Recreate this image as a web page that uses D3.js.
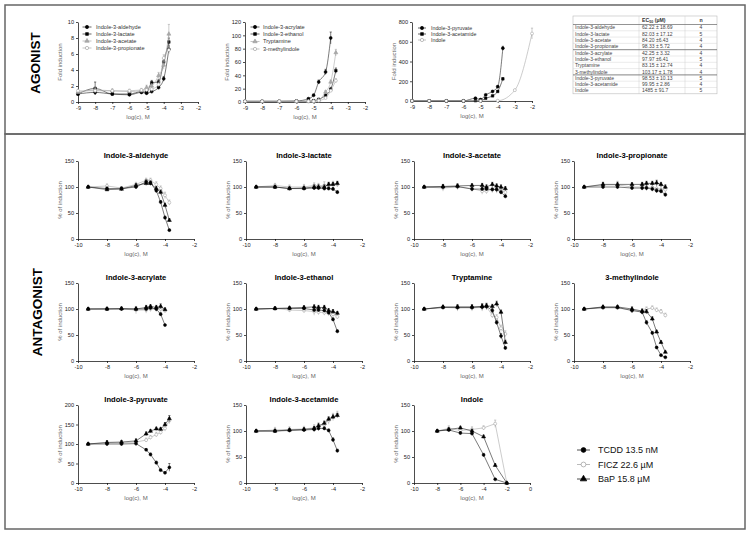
<!DOCTYPE html>
<html>
<head>
<meta charset="utf-8">
<script src="https://cdn.jsdelivr.net/npm/d3@7"></script>
<style>
body { margin: 0; background: #fff; }
text { font-family: "Liberation Sans", Arial, sans-serif; }
</style>
</head>
<body>
<svg id="fig" width="751" height="536"></svg>
<script>
// ---------- data ----------
var agoX = [-9, -8, -7, -6, -5.3, -5, -4.7, -4.3, -4, -3.7];
var agoIndoleX = [-9, -8, -7, -6, -5, -4, -3, -2];

// agonist panel 1 (fold induction)
var agoAldehyde   = [1.0, 1.2, 1.0, 0.9, 1.2, 1.1, 1.3, 1.8, 2.9, 6.6];
var agoLactate    = [1.0, 1.7, 1.0, 1.0, 1.3, 1.2, 2.4, 2.5, 5.0, 7.5];
var agoAcetate    = [1.2, 1.5, 1.4, 1.3, 1.4, 1.8, 2.0, 3.3, 4.6, 8.5];
var agoPropionate = [1.4, 1.4, 1.4, 1.4, 1.5, 1.5, 1.6, 2.2, 5.5, 6.5];
var agoAldehydeSd   = [0.1, 0.3, 0.1, 0.2, 0.2, 0.2, 0.2, 0.2, 0.3, 0.4];
var agoLactateSd    = [0.1, 0.8, 0.1, 0.1, 0.2, 0.2, 0.3, 0.3, 0.4, 0.5];
var agoAcetateSd    = [0.2, 0.3, 0.2, 0.2, 0.2, 0.3, 0.3, 0.4, 0.5, 1.2];
var agoPropionateSd = [0.2, 0.2, 0.2, 0.2, 0.2, 0.2, 0.3, 0.3, 0.4, 0.5];

// agonist panel 2
var agoAcrylate     = [1, 1, 1, 1.5, 5, 10, 30, 45, 96];
var agoEthanol      = [1, 1, 1, 1, 1, 2, 4, 10, 19, 47];
var agoTryptamine   = [1, 1, 1, 1, 1, 1, 3, 15, 30, 74];
var agoMethylindole = [1, 1, 1, 1, 1, 1, 2, 6, 17, 32];
var agoAcrylateSd     = [0.5, 0.5, 0.5, 0.5, 1, 2, 3, 4, 9];
var agoEthanolSd      = [0.5, 0.5, 0.5, 0.5, 0.5, 1, 1, 2, 3, 4];
var agoTryptamineSd   = [0.5, 0.5, 0.5, 0.5, 0.5, 0.5, 1, 2, 3, 5];
var agoMethylindoleSd = [0.5, 0.5, 0.5, 0.5, 0.5, 0.5, 1, 1, 2, 3];

// agonist panel 3
var agoPyruvate  = [1, 1, 1, 1, 28, 14, 62, 97, 145, 534];
var agoAcetamide = [1, 1, 1, 1, 3, 3, 28, 52, 97, 224];
var agoIndole    = [1, 1, 1, 1, 1, 3, 110, 683];
var agoPyruvateSd  = [2, 2, 2, 2, 5, 4, 6, 8, 10, 20];
var agoAcetamideSd = [2, 2, 2, 2, 3, 3, 4, 6, 8, 12];
var agoIndoleSd    = [2, 2, 2, 2, 2, 3, 8, 55];

// EC50 table
var tableNames = ["Indole-3-aldehyde", "Indole-3-lactate", "Indole-3-acetate", "Indole-3-propionate",
  "Indole-3-acrylate", "Indole-3-ethanol", "Tryptamine", "3-methylindole",
  "Indole-3-pyruvate", "Indole-3-acetamide", "Indole"];
var tableEc50 = ["62.22 \u00b1 18.69", "82.03 \u00b1 17.12", "84.20 \u00b16.43", "98.33 \u00b1 5.72",
  "42.25 \u00b1 3.32", "97.97 \u00b16.41", "83.15 \u00b1 12.74", "103.17 \u00b1 1.78",
  "98.53 \u00b1 10.13", "99.95 \u00b1 2.86", "1485 \u00b1 91.7"];
var tableN = [4, 5, 4, 4, 4, 5, 4, 4, 5, 4, 5];

// antagonist panels (% of induction)
var antagX = [-9.3, -8, -7, -6, -5.3, -5, -4.6, -4.3, -4, -3.7];
var antagIndoleX = [-8, -7, -6, -5, -4, -3, -2];
var antagTitles = ["Indole-3-aldehyde", "Indole-3-lactate", "Indole-3-acetate", "Indole-3-propionate",
  "Indole-3-acrylate", "Indole-3-ethanol", "Tryptamine", "3-methylindole",
  "Indole-3-pyruvate", "Indole-3-acetamide", "Indole"];

var tcdd = [
  [100, 97, 97, 100, 110, 108, 93, 71, 41, 17],
  [100, 100, 97, 97, 98, 98, 97, 97, 96, 90],
  [100, 100, 101, 96, 96, 96, 95, 95, 90, 82],
  [100, 100, 100, 98, 98, 98, 96, 93, 92, 85],
  [100, 100, 100, 100, 100, 102, 100, 90, 69],
  [100, 101, 101, 101, 98, 98, 97, 93, 80, 57],
  [100, 103, 103, 103, 104, 105, 97, 74, 48, 25],
  [100, 103, 103, 97, 94, 74, 54, 26, 11, 7],
  [100, 100, 100, 101, 85, 73, 52, 33, 26, 40],
  [100, 100, 101, 102, 103, 105, 105, 101, 83, 62],
  [100, 102, 96, 95, 54, 7, 0]
];
var ficz = [
  [100, 102, 98, 105, 113, 113, 105, 97, 84, 70],
  [100, 103, 100, 100, 103, 102, 103, 103, 106, 105],
  [100, 98, 100, 97, 92, 92, 96, 96, 94, 90],
  [100, 104, 104, 100, 100, 99, 99, 97, 95, 95],
  [100, 101, 100, 98, 98, 100, 100, 100, 97],
  [100, 101, 98, 97, 95, 94, 93, 92, 90, 85],
  [100, 103, 102, 102, 103, 104, 88, 84, 63, 52],
  [100, 102, 102, 98, 95, 100, 102, 98, 95, 88],
  [100, 103, 103, 105, 110, 117, 124, 130, 140, 160],
  [100, 102, 103, 104, 106, 110, 112, 120, 127, 132],
  [100, 105, 101, 103, 106, 114, 0]
];
var bap = [
  [100, 95, 96, 103, 107, 107, 97, 90, 65, 36],
  [100, 100, 97, 98, 100, 100, 100, 105, 105, 107],
  [100, 101, 102, 103, 103, 100, 105, 102, 100, 97],
  [100, 105, 105, 105, 105, 107, 107, 108, 105, 100],
  [100, 100, 101, 100, 103, 105, 103, 105, 99],
  [100, 101, 102, 103, 104, 103, 103, 97, 95, 92],
  [100, 104, 104, 104, 105, 106, 105, 110, 94, 36],
  [100, 104, 104, 100, 96, 95, 81, 56, 36, 17],
  [100, 104, 105, 108, 126, 133, 139, 138, 150, 165],
  [100, 100, 102, 103, 105, 110, 115, 123, 127, 130],
  [100, 103, 106, 100, 89, 34, 0]
];
var tcddSd = [
  [2, 3, 3, 3, 4, 4, 4, 3, 3, 2],
  [2, 3, 3, 3, 3, 3, 3, 3, 3, 3],
  [2, 4, 4, 3, 3, 3, 3, 4, 4, 3],
  [2, 3, 3, 3, 4, 4, 4, 4, 4, 3],
  [2, 3, 3, 4, 4, 3, 4, 3, 2],
  [2, 3, 3, 3, 4, 3, 3, 3, 3, 3],
  [2, 3, 4, 4, 5, 4, 4, 4, 5, 3],
  [2, 3, 3, 4, 4, 4, 3, 2, 2, 2],
  [2, 4, 4, 5, 3, 4, 4, 3, 2, 10],
  [2, 3, 3, 3, 4, 4, 3, 3, 4, 3],
  [2, 3, 3, 3, 3, 1, 1]
];
var ficzSd = [
  [2, 4, 3, 4, 4, 4, 5, 5, 6, 5],
  [2, 4, 4, 5, 5, 5, 7, 6, 5, 5],
  [2, 6, 5, 6, 6, 5, 7, 8, 7, 8],
  [2, 5, 7, 5, 6, 6, 7, 8, 7, 7],
  [2, 3, 3, 7, 6, 5, 5, 6, 4],
  [2, 3, 4, 4, 7, 5, 5, 5, 5, 4],
  [2, 4, 6, 6, 7, 6, 5, 5, 6, 6],
  [2, 4, 4, 5, 5, 4, 4, 4, 4, 4],
  [2, 6, 6, 6, 5, 5, 6, 6, 7, 8],
  [2, 5, 5, 5, 6, 6, 7, 7, 7, 6],
  [2, 5, 4, 5, 4, 7, 1]
];
var bapSd = [
  [2, 3, 3, 3, 4, 4, 4, 4, 4, 3],
  [2, 3, 3, 3, 4, 4, 4, 4, 4, 4],
  [2, 4, 4, 3, 4, 4, 4, 4, 4, 4],
  [2, 4, 4, 3, 4, 4, 4, 5, 4, 4],
  [2, 3, 3, 3, 4, 3, 4, 5, 3],
  [2, 3, 3, 3, 4, 4, 4, 4, 4, 3],
  [2, 3, 4, 4, 5, 5, 4, 5, 4, 4],
  [2, 3, 3, 4, 4, 4, 4, 3, 3, 2],
  [2, 4, 4, 5, 5, 4, 4, 4, 5, 8],
  [2, 3, 3, 3, 4, 4, 4, 4, 4, 4],
  [2, 3, 3, 3, 3, 3, 1]
];

var legendLabels = ["TCDD 13.5 nM", "FICZ 22.6 \u00b5M", "BaP 15.8 \u00b5M"];

// ---------- styles ----------
var blackCircle = {symbol: d3.symbolCircle, size: 7, fill: "#000", stroke: "#000", line: "#222"};
var blackSquare = {symbol: d3.symbolSquare, size: 6.5, fill: "#000", stroke: "#000", line: "#222"};
var blackTriangle = {symbol: d3.symbolTriangle, size: 7, fill: "#000", stroke: "#000", line: "#222"};
var grayTriangle = {symbol: d3.symbolTriangle, size: 7, fill: "#aaa", stroke: "#999", line: "#aaa"};
var grayOpen = {symbol: d3.symbolCircle, size: 7, fill: "#fff", stroke: "#999", line: "#aaa"};

var svg = d3.select("#fig");
svg.append("rect").attr("width", 751).attr("height", 536).attr("fill", "#fff");

// frames
svg.append("rect").attr("x", 5).attr("y", 5).attr("width", 740).attr("height", 129)
    .attr("fill", "none").attr("stroke", "#666").attr("stroke-width", 1.5);
svg.append("rect").attr("x", 5).attr("y", 134).attr("width", 740).attr("height", 395)
    .attr("fill", "none").attr("stroke", "#666").attr("stroke-width", 1.5);

svg.append("text").attr("transform", "translate(40,63) rotate(-90)")
    .attr("text-anchor", "middle").attr("font-size", 13.5).attr("font-weight", "bold").text("AGONIST");
svg.append("text").attr("transform", "translate(42,312) rotate(-90)")
    .attr("text-anchor", "middle").attr("font-size", 13.5).attr("font-weight", "bold").text("ANTAGONIST");

function drawPanel (p) {
    var g = svg.append("g").attr("transform", "translate(" + p.left + "," + p.top + ")");
    var x = d3.scaleLinear().domain(p.xDomain).range([0, p.width]);
    var y = d3.scaleLinear().domain(p.yDomain).range([p.height, 0]);

    var xAxis = g.append("g").attr("transform", "translate(0," + p.height + ")")
        .call(d3.axisBottom(x).tickValues(p.xTicks).tickSize(2).tickSizeOuter(0).tickPadding(2)
            .tickFormat(function (d) { return String(d); }));
    var yAxis = g.append("g")
        .call(d3.axisLeft(y).tickValues(p.yTicks).tickSize(2).tickSizeOuter(0).tickPadding(2)
            .tickFormat(function (d) { return String(d); }));
    [xAxis, yAxis].forEach(function (a) {
        a.selectAll("path,line").attr("stroke", "#000").attr("stroke-width", 0.7);
        a.selectAll("text").attr("font-size", 5.6).attr("fill", "#222")
            .attr("font-family", "Liberation Sans, Arial, sans-serif");
    });

    g.append("text").attr("transform", "translate(-16," + (p.height / 2) + ") rotate(-90)")
        .attr("text-anchor", "middle").attr("font-size", 6).attr("fill", "#666").text(p.yLabel);
    g.append("text").attr("x", p.width / 2).attr("y", p.height + 17)
        .attr("text-anchor", "middle").attr("font-size", 6).attr("fill", "#666").text("log(c), M");
    if (p.title) {
        g.append("text").attr("x", p.width / 2).attr("y", -3)
            .attr("text-anchor", "middle").attr("font-size", 7.6).attr("font-weight", "bold").text(p.title);
    }

    p.series.forEach(function (s) {
        var pts = s.values.map(function (v, i) { return {x: s.xs[i], y: v, sd: s.sd ? s.sd[i] : 0}; });
        var st = s.style;
        g.append("path").datum(pts)
            .attr("fill", "none").attr("stroke", st.line).attr("stroke-width", 0.6)
            .attr("d", d3.line().x(function (d) { return x(d.x); }).y(function (d) { return y(d.y); })
                .curve(s.smooth ? d3.curveMonotoneX : d3.curveLinear));
        var eb = g.append("g");
        pts.forEach(function (d) {
            if (!d.sd) return;
            var top = y(d.y + d.sd), bot = y(Math.max(p.yDomain[0], d.y - d.sd));
            eb.append("line").attr("x1", x(d.x)).attr("x2", x(d.x)).attr("y1", top).attr("y2", bot)
                .attr("stroke", st.stroke).attr("stroke-width", 0.5);
            eb.append("line").attr("x1", x(d.x) - 1.1).attr("x2", x(d.x) + 1.1).attr("y1", top).attr("y2", top)
                .attr("stroke", st.stroke).attr("stroke-width", 0.5);
        });
        g.append("g").selectAll("path").data(pts).enter().append("path")
            .attr("transform", function (d) { return "translate(" + x(d.x) + "," + y(d.y) + ")"; })
            .attr("d", d3.symbol().type(st.symbol).size(st.size))
            .attr("fill", st.fill).attr("stroke", st.stroke).attr("stroke-width", 0.5);
    });

    if (p.legend) {
        p.legend.items.forEach(function (it, i) {
            var ly = p.legend.y[i];
            var lg = svg.append("g");
            lg.append("line").attr("x1", p.legend.x - p.legend.half).attr("x2", p.legend.x + p.legend.half)
                .attr("y1", ly).attr("y2", ly).attr("stroke", it.style.line).attr("stroke-width", p.legend.lw);
            lg.append("path").attr("transform", "translate(" + p.legend.x + "," + ly + ")")
                .attr("d", d3.symbol().type(it.style.symbol).size(it.style.size * p.legend.scale))
                .attr("fill", it.style.fill).attr("stroke", it.style.stroke).attr("stroke-width", 0.6);
            lg.append("text").attr("x", p.legend.tx).attr("y", ly).attr("dy", "0.35em")
                .attr("font-size", p.legend.fs).attr("fill", "#333").text(it.label);
        });
    }
}

// ---------- agonist panels ----------
drawPanel({
    left: 78, top: 22, width: 120, height: 80,
    xDomain: [-9, -2], yDomain: [0, 10], xTicks: d3.range(-9, -1), yTicks: [0, 2, 4, 6, 8, 10],
    yLabel: "Fold induction",
    series: [
        {xs: agoX, values: agoAldehyde, sd: agoAldehydeSd, style: blackCircle, smooth: true},
        {xs: agoX, values: agoLactate, sd: agoLactateSd, style: blackSquare, smooth: true},
        {xs: agoX, values: agoAcetate, sd: agoAcetateSd, style: grayTriangle, smooth: true},
        {xs: agoX, values: agoPropionate, sd: agoPropionateSd, style: grayOpen, smooth: true}
    ],
    legend: {x: 87, half: 4.5, tx: 96, fs: 5.6, lw: 0.7, scale: 1.2, y: [27, 34, 41, 48],
        items: [{label: "Indole-3-aldehyde", style: blackCircle}, {label: "Indole-3-lactate", style: blackSquare},
            {label: "Indole-3-acetate", style: grayTriangle}, {label: "Indole-3-propionate", style: grayOpen}]}
});
drawPanel({
    left: 245, top: 22, width: 120, height: 80,
    xDomain: [-9, -2], yDomain: [0, 120], xTicks: d3.range(-9, -1), yTicks: [0, 20, 40, 60, 80, 100, 120],
    yLabel: "Fold induction",
    series: [
        {xs: agoX, values: agoAcrylate, sd: agoAcrylateSd, style: blackCircle, smooth: true},
        {xs: agoX, values: agoEthanol, sd: agoEthanolSd, style: blackSquare, smooth: true},
        {xs: agoX, values: agoTryptamine, sd: agoTryptamineSd, style: grayTriangle, smooth: true},
        {xs: agoX, values: agoMethylindole, sd: agoMethylindoleSd, style: grayOpen, smooth: true}
    ],
    legend: {x: 255, half: 4.5, tx: 263, fs: 5.6, lw: 0.7, scale: 1.2, y: [27, 34, 41.5, 49],
        items: [{label: "Indole-3-acrylate", style: blackCircle}, {label: "Indole-3-ethanol", style: blackSquare},
            {label: "Tryptamine", style: grayTriangle}, {label: "3-methylindole", style: grayOpen}]}
});
drawPanel({
    left: 412, top: 22, width: 120, height: 79,
    xDomain: [-9, -2], yDomain: [0, 800], xTicks: d3.range(-9, -1), yTicks: [0, 200, 400, 600, 800],
    yLabel: "Fold induction",
    series: [
        {xs: agoX, values: agoPyruvate, sd: agoPyruvateSd, style: blackCircle, smooth: true},
        {xs: agoX, values: agoAcetamide, sd: agoAcetamideSd, style: blackSquare, smooth: true},
        {xs: agoIndoleX, values: agoIndole, sd: agoIndoleSd, style: grayOpen, smooth: true}
    ],
    legend: {x: 422, half: 4, tx: 431, fs: 5.3, lw: 0.7, scale: 1.2, y: [28, 34, 40],
        items: [{label: "Indole-3-pyruvate", style: blackCircle}, {label: "Indole-3-acetamide", style: blackSquare},
            {label: "Indole", style: grayOpen}]}
});

// ---------- EC50 table ----------
(function () {
    var tl = 573, tr = 717, tt = 16, hh = 8.5, rh = 6.3;
    var c1 = 639, c2 = 685;
    var tg = svg.append("g");
    var tb = tt + hh + rh * tableNames.length;
    tg.append("rect").attr("x", tl).attr("y", tt).attr("width", tr - tl).attr("height", tb - tt)
        .attr("fill", "#fff").attr("stroke", "#bbb").attr("stroke-width", 0.6);
    [c1, c2].forEach(function (cx) {
        tg.append("line").attr("x1", cx).attr("x2", cx).attr("y1", tt).attr("y2", tb)
            .attr("stroke", "#ccc").attr("stroke-width", 0.5);
    });
    tg.append("text").attr("x", c1 + 3).attr("y", tt + hh / 2).attr("dy", "0.35em")
        .attr("font-size", 5.2).attr("font-weight", "bold").attr("fill", "#333")
        .html('EC<tspan font-size="3.6" dy="1.2">50</tspan><tspan dy="-1.2"> (\u00b5M)</tspan>');
    tg.append("text").attr("x", (c2 + tr) / 2).attr("y", tt + hh / 2).attr("dy", "0.35em")
        .attr("text-anchor", "middle").attr("font-size", 5.2).attr("font-weight", "bold").attr("fill", "#333").text("n");
    tg.append("line").attr("x1", tl).attr("x2", tr).attr("y1", tt + hh).attr("y2", tt + hh)
        .attr("stroke", "#666").attr("stroke-width", 0.7);
    tableNames.forEach(function (name, i) {
        var ry = tt + hh + rh * i;
        var thick = (i === 4 || i === 8);
        if (i > 0) {
            tg.append("line").attr("x1", tl).attr("x2", tr).attr("y1", ry).attr("y2", ry)
                .attr("stroke", thick ? "#666" : "#ccc").attr("stroke-width", thick ? 0.8 : 0.4);
        }
        var cy = ry + rh / 2;
        tg.append("text").attr("x", tl + 2).attr("y", cy).attr("dy", "0.35em")
            .attr("font-size", 5).attr("fill", "#444").text(name);
        tg.append("text").attr("x", c1 + 3).attr("y", cy).attr("dy", "0.35em")
            .attr("font-size", 5).attr("fill", "#444").text(tableEc50[i]);
        tg.append("text").attr("x", (c2 + tr) / 2).attr("y", cy).attr("dy", "0.35em")
            .attr("text-anchor", "middle").attr("font-size", 5).attr("fill", "#444").text(tableN[i]);
    });
})();

// ---------- antagonist panels ----------
var colLeft = [78, 246, 414, 574];
var rowTop = [161, 283, 405];
antagTitles.forEach(function (title, k) {
    var isIndole = (k === 10);
    var isPyruvate = (k === 8);
    var xs = isIndole ? antagIndoleX : antagX;
    drawPanel({
        left: colLeft[k % 4], top: rowTop[Math.floor(k / 4)], width: 116, height: 78,
        xDomain: isIndole ? [-10, 0] : [-10, -2],
        yDomain: isPyruvate ? [0, 200] : [0, 150],
        xTicks: isIndole ? [-10, -8, -6, -4, -2, 0] : [-10, -8, -6, -4, -2],
        yTicks: isPyruvate ? [0, 50, 100, 150, 200] : [0, 50, 100, 150],
        yLabel: "% of induction",
        title: title,
        series: [
            {xs: xs, values: ficz[k], sd: ficzSd[k], style: grayOpen},
            {xs: xs, values: bap[k], sd: bapSd[k], style: blackTriangle},
            {xs: xs, values: tcdd[k], sd: tcddSd[k], style: blackCircle}
        ]
    });
});

// antagonist legend
var legStyles = [blackCircle, grayOpen, blackTriangle];
var legY = [450, 464.5, 479];
legendLabels.forEach(function (lab, i) {
    var st = legStyles[i];
    svg.append("line").attr("x1", 577).attr("x2", 590).attr("y1", legY[i]).attr("y2", legY[i])
        .attr("stroke", st.line).attr("stroke-width", 0.8);
    svg.append("path").attr("transform", "translate(583.5," + legY[i] + ")")
        .attr("d", d3.symbol().type(st.symbol).size(st.size * 2.6))
        .attr("fill", st.fill).attr("stroke", st.stroke).attr("stroke-width", 0.7);
    svg.append("text").attr("x", 598).attr("y", legY[i]).attr("dy", "0.35em")
        .attr("font-size", 9).attr("fill", "#111").text(lab);
});
</script>
</body>
</html>
